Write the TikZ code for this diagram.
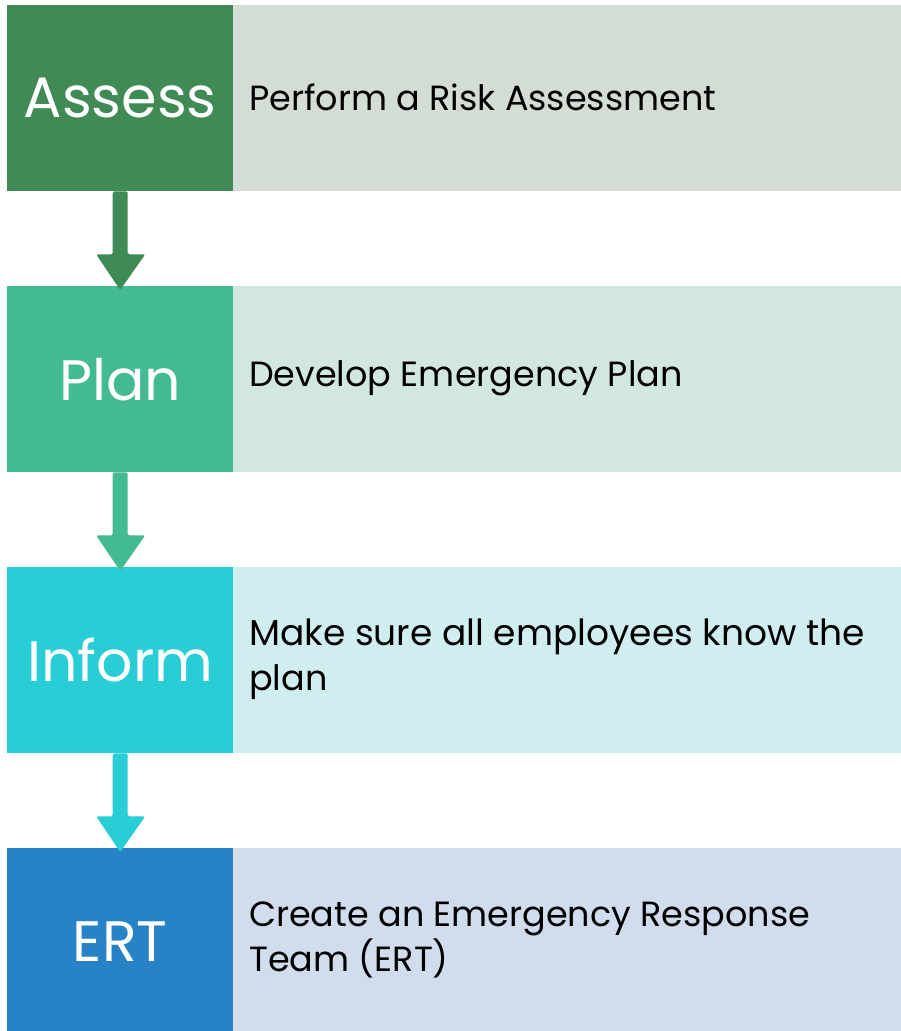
\documentclass[tikz,border=0pt]{standalone}
\usepackage{fontspec}
\setmainfont{Poppins}
\definecolor{gA}{RGB}{63,138,85}
\definecolor{gAl}{RGB}{211,221,213}
\definecolor{gB}{RGB}{68,186,148}
\definecolor{gBl}{RGB}{210,232,223}
\definecolor{gC}{RGB}{41,205,214}
\definecolor{gCl}{RGB}{208,238,240}
\definecolor{gD}{RGB}{39,130,198}
\definecolor{gDl}{RGB}{209,220,236}
\tikzset{
  stage/.style={minimum width=226pt, minimum height=186pt, inner sep=0pt, text=white, font=\fontsize{57}{60}\selectfont, anchor=north west},
  desc/.style={minimum width=668pt, minimum height=186pt, inner sep=0pt, anchor=north west},
  desctext/.style={anchor=west, align=left, text=black, font=\fontsize{35}{45}\selectfont, inner sep=0pt},
}
\newcommand{\flowarrow}[3]{%
  \fill[#1, rounded corners=1.5pt] ([xshift=-7.5pt]#2.south) -- ([xshift=-7.5pt,yshift=-63pt]#2.south) -- ([xshift=-24pt,yshift=-63pt]#2.south) -- ([yshift=-4pt]#3.north) -- ([xshift=25pt,yshift=-63pt]#2.south) -- ([xshift=7.5pt,yshift=-63pt]#2.south) -- ([xshift=7.5pt]#2.south) -- cycle;}
\begin{document}
\begin{tikzpicture}[x=1pt,y=-1pt]
\useasboundingbox (0,0) rectangle (901,1031);
\foreach \i/\y/\c/\lbl in {1/5/gA/Assess,2/286/gB/Plan,3/567/gC/Inform,4/848/gD/ERT}{
  \node[desc, fill=\c l] (d\i) at (233,\y) {};
  \node[stage, fill=\c] (s\i) at (7,\y) {\lbl};
}
\node[desctext] (t1) at (249,97) {Perform a Risk Assessment};
\node[desctext] (t2) at (249,378) {Develop Emergency Plan};
\node[desctext] (t3) at (249,659) {\fontsize{36}{45}\selectfont Make sure all employees know the\\plan};
\node[desctext] (t4) at (249,940) {Create an Emergency Response\\Team (ERT)};
\flowarrow{gA}{s1}{s2}
\flowarrow{gB}{s2}{s3}
\flowarrow{gC}{s3}{s4}
\end{tikzpicture}
\end{document}
